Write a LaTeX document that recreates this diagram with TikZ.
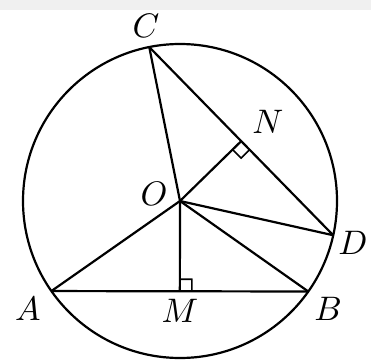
\documentclass[tikz,border=0pt]{standalone}
\usepackage{amssymb,xcolor}
\usetikzlibrary{calc}

\begin{document}
\begin{tikzpicture}[x=1pt,y=1pt,line width=2.2pt,
	lbl/.style={scale=3.4},
	rtmark/.style={line width=1.6pt}]
\useasboundingbox (-180,-160) rectangle (191,201);
\fill[black!6] (-180,191) rectangle (191,201);
\def\R{157}
\coordinate (O) at (0,0);
\coordinate (A) at (215:\R);
\coordinate (B) at (324.8:\R);
\coordinate (C) at (101.3:\R);
\coordinate (D) at (347.4:\R);
\coordinate (M) at ($(A)!(O)!(B)$);
\coordinate (N) at ($(C)!(O)!(D)$);
\draw (O) circle (\R);
\draw (A) -- (B) (C) -- (D);
\foreach \p in {A,B,C,D,M,N} {
	\draw (O) -- (\p);
}
% right angles
\coordinate (m1) at ($(M)!12pt!(O)$);
\coordinate (m2) at ($(M)!12pt!(B)$);
\draw[rtmark] (m1) -- ($(m1)+(m2)-(M)$) -- (m2);
\coordinate (n1) at ($(N)!12pt!(O)$);
\coordinate (n2) at ($(N)!12pt!(D)$);
\draw[rtmark] (n1) -- ($(n1)+(n2)-(N)$) -- (n2);
% labels
\node[lbl] (lC) at (-34,175) {$C$};
\node[lbl] (lA) at (-152,-108) {$A$};
\node[lbl] (lM) at (0,-110) {$M$};
\node[lbl] (lB) at (148,-108) {$B$};
\node[lbl] (lD) at (173,-42) {$D$};
\node[lbl] (lN) at (88,79) {$N$};
\node[lbl] (lO) at (-26,7) {$O$};
\end{tikzpicture}
\end{document}
